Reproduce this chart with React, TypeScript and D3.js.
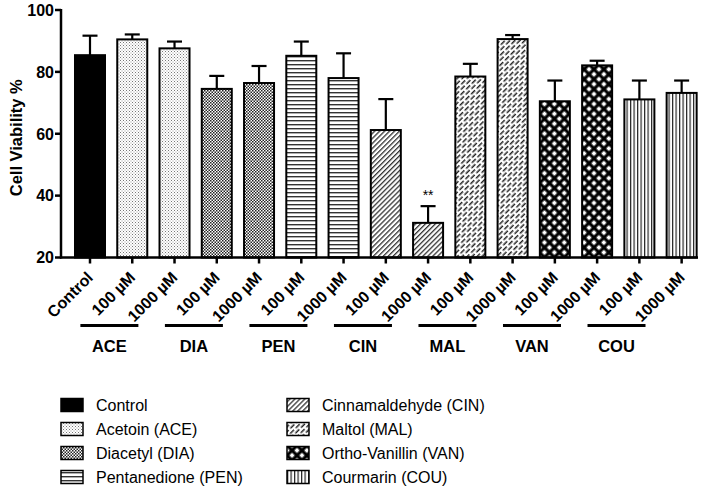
import React from "react";
import * as d3 from "d3";

const categories = ["Control", "100 µM", "1000 µM", "100 µM", "1000 µM", "100 µM", "1000 µM", "100 µM", "1000 µM", "100 µM", "1000 µM", "100 µM", "1000 µM", "100 µM", "1000 µM"];
const means = [85.4, 90.5, 87.6, 74.5, 76.4, 85.2, 78.0, 61.2, 31.2, 78.5, 90.6, 70.5, 82.1, 71.1, 73.2];
const errors = [6.3, 1.6, 2.2, 4.2, 5.5, 4.6, 8.0, 10.0, 5.4, 4.1, 1.3, 6.7, 1.5, 6.1, 4.0];
const patternOf = ["control", "ace", "ace", "dia", "dia", "pen", "pen", "cin", "cin", "mal", "mal", "van", "van", "cou", "cou"];
const groups = [
  { label: "ACE", first: 1 },
  { label: "DIA", first: 3 },
  { label: "PEN", first: 5 },
  { label: "CIN", first: 7 },
  { label: "MAL", first: 9 },
  { label: "VAN", first: 11 },
  { label: "COU", first: 13 },
];
const yTicks = [20, 40, 60, 80, 100];
const legendCol1 = [
  { key: "control", label: "Control" },
  { key: "ace", label: "Acetoin (ACE)" },
  { key: "dia", label: "Diacetyl (DIA)" },
  { key: "pen", label: "Pentanedione (PEN)" },
];
const legendCol2 = [
  { key: "cin", label: "Cinnamaldehyde (CIN)" },
  { key: "mal", label: "Maltol (MAL)" },
  { key: "van", label: "Ortho-Vanillin (VAN)" },
  { key: "cou", label: "Courmarin (COU)" },
];

const FONT = "'Liberation Sans', Arial, Helvetica, sans-serif";

function fillFor(key: string) {
  return key === "control" ? "#000" : `url(#p-${key})`;
}

function Patterns() {
  return (
    <defs>
      <pattern id="p-ace" width="3" height="3" patternUnits="userSpaceOnUse">
        <rect width="3" height="3" fill="#fff" />
        <rect x="0" y="0" width="1" height="1" fill="#777" />
        <rect x="1.5" y="1.5" width="1" height="1" fill="#999" />
      </pattern>
      <pattern id="p-dia" width="3" height="3" patternUnits="userSpaceOnUse">
        <rect width="3" height="3" fill="#fff" />
        <rect x="0" y="0" width="1.5" height="1.5" fill="#222" />
        <rect x="1.5" y="1.5" width="1.5" height="1.5" fill="#222" />
      </pattern>
      <pattern id="p-pen" width="4" height="4" patternUnits="userSpaceOnUse">
        <rect width="4" height="4" fill="#fff" />
        <rect x="0" y="0" width="4" height="1.4" fill="#333" />
      </pattern>
      <pattern id="p-cin" width="3.5" height="3.5" patternUnits="userSpaceOnUse" patternTransform="rotate(45)">
        <rect width="3.5" height="3.5" fill="#fff" />
        <rect x="0" y="0" width="1.3" height="3.5" fill="#333" />
      </pattern>
      <pattern id="p-mal" width="7" height="8" patternUnits="userSpaceOnUse" patternTransform="rotate(45)">
        <rect width="7" height="8" fill="#fff" />
        <rect x="0" y="0" width="1.5" height="5.5" fill="#222" />
        <rect x="3.5" y="4" width="1.5" height="4" fill="#222" />
        <rect x="3.5" y="0" width="1.5" height="1.5" fill="#222" />
      </pattern>
      <pattern id="p-van" width="7" height="7" patternUnits="userSpaceOnUse" patternTransform="rotate(45)">
        <rect width="7" height="7" fill="#000" />
        <rect x="1.6" y="1.6" width="3.8" height="3.8" fill="#fff" />
      </pattern>
      <pattern id="p-cou" width="3.5" height="3.5" patternUnits="userSpaceOnUse">
        <rect width="3.5" height="3.5" fill="#fff" />
        <rect x="0" y="0" width="1.2" height="3.5" fill="#222" />
      </pattern>
    </defs>
  );
}

export default function App() {
  const width = 714;
  const height = 498;
  const axisX = 61;
  const axisY = 257.5;
  const y = d3.scaleLinear().domain([20, 100]).range([axisY, 10]);
  const step = 42.26;
  const x = d3
    .scaleBand<number>()
    .domain(d3.range(categories.length))
    .range([90 - step / 2, 90 + step * (categories.length - 0.5)])
    .paddingInner(0.29)
    .paddingOuter(0.145);
  const bw = x.bandwidth();
  const cx = (i: number) => (x(i) as number) + bw / 2;

  return (
    <svg width={width} height={height} style={{ position: "absolute", left: 0, top: 0 }} fontFamily={FONT}>
      <Patterns />
      <rect width={width} height={height} fill="#fff" />
      {means.map((m, i) => (
        <g key={i}>
          <line x1={cx(i)} x2={cx(i)} y1={y(m)} y2={y(m + errors[i])} stroke="#000" strokeWidth={2.2} />
          <line x1={cx(i) - 7.5} x2={cx(i) + 7.5} y1={y(m + errors[i])} y2={y(m + errors[i])} stroke="#000" strokeWidth={2.2} />
          <rect
            x={x(i)}
            y={y(m)}
            width={bw}
            height={axisY - y(m)}
            fill={fillFor(patternOf[i])}
            stroke="#000"
            strokeWidth={2}
          />
        </g>
      ))}
      <text x={cx(8)} y={y(means[8] + errors[8]) - 6} textAnchor="middle" fontSize={14} fill="#000">**</text>
      <line x1={axisX} x2={axisX} y1={y(100) - 1} y2={axisY + 1} stroke="#000" strokeWidth={2.5} />
      {yTicks.map((t) => (
        <g key={t}>
          <line x1={axisX - 6} x2={axisX} y1={y(t)} y2={y(t)} stroke="#000" strokeWidth={2.5} />
          <text x={axisX - 7} y={y(t)} dy="0.36em" textAnchor="end" fontSize={16} fontWeight="bold">
            {t}
          </text>
        </g>
      ))}
      <text
        transform={`translate(22,${(y(100) + axisY) / 2 + 4}) rotate(-90)`}
        textAnchor="middle"
        fontSize={16.5}
        fontWeight="bold"
      >
        Cell Viability %
      </text>
      <line x1={axisX - 1} x2={698} y1={axisY} y2={axisY} stroke="#000" strokeWidth={2.5} />
      {categories.map((c, i) => (
        <g key={i}>
          <line x1={cx(i)} x2={cx(i)} y1={axisY} y2={axisY + 6} stroke="#000" strokeWidth={2.5} />
          <text
            transform={`translate(${cx(i) + 4},${axisY + 21}) rotate(-45)`}
            textAnchor="end"
            fontSize={16}
            fontWeight="bold"
          >
            {c}
          </text>
        </g>
      ))}
      {groups.map((g) => {
        const center = (cx(g.first) + cx(g.first + 1)) / 2 - 44;
        return (
          <g key={g.label}>
            <line x1={center - 29} x2={center + 29} y1={325.5} y2={325.5} stroke="#000" strokeWidth={3} />
            <text x={center} y={352} textAnchor="middle" fontSize={16.5} fontWeight="bold">
              {g.label}
            </text>
          </g>
        );
      })}
      {[legendCol1, legendCol2].map((col, ci) =>
        col.map((item, ri) => {
          const lx = ci === 0 ? 61 : 287;
          const ly = 405 + ri * 24;
          return (
            <g key={item.key}>
              <rect x={lx} y={ly - 6.5} width={22} height={13} fill={fillFor(item.key)} stroke="#000" strokeWidth={1.5} />
              <text x={lx + 35} y={ly} dy="0.36em" fontSize={16}>
                {item.label}
              </text>
            </g>
          );
        })
      )}
    </svg>
  );
}
